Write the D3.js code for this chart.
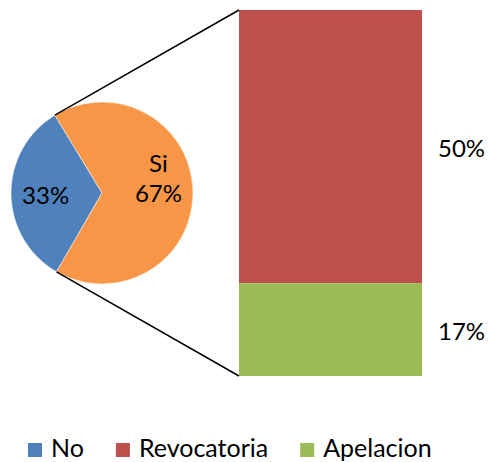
<!DOCTYPE html>
<html lang="es">
<head>
<meta charset="UTF-8">
<script src="https://cdnjs.cloudflare.com/ajax/libs/d3/7.8.5/d3.min.js"></script>
<style>
  body { margin: 0; background: #fff; }
  svg { display: block; font-family: Lato, "Open Sans", sans-serif; }
</style>
</head>
<body>
<div id="chart"></div>
<script>
// pie data
const pieCategories = ["No", "Si"];
const pieValues = [33, 67];
const pieLabels = ["33%", "Si\n67%"];
// bar (breakdown of "Si")
const barCategories = ["Revocatoria", "Apelacion"];
const barValues = [50, 17];
const barLabels = ["50%", "17%"];
// legend
const legendItems = ["No", "Revocatoria", "Apelacion"];

const colors = {
  No: "#4F81BD",
  Si: "#F79646",
  Revocatoria: "#C0504D",
  Apelacion: "#9BBB59"
};

const W = 488, H = 462;
const svg = d3.select("#chart").append("svg")
  .attr("width", W).attr("height", H);

// pie
const cx = 102, cy = 193, r = 91;
const pie = d3.pie().sort(null)
  .startAngle(Math.PI * 7 / 6)
  .endAngle(Math.PI * 7 / 6 + Math.PI * 2);
const arcs = pie(pieValues);
const arc = d3.arc().innerRadius(0).outerRadius(r);
const labelArc = d3.arc().innerRadius(r * 0.62).outerRadius(r * 0.62);

const g = svg.append("g").attr("transform", `translate(${cx},${cy})`);
g.selectAll("path.slice")
  .data(arcs)
  .enter().append("path")
  .attr("class", "slice")
  .attr("d", arc)
  .attr("fill", (d, i) => colors[pieCategories[i]])
  .attr("stroke", "#fff")
  .attr("stroke-width", 0.5);

g.selectAll("text.plabel")
  .data(arcs)
  .enter().append("text")
  .attr("class", "plabel")
  .attr("text-anchor", "middle")
  .attr("font-size", 24)
  .attr("fill", "#000")
  .each(function (d, i) {
    const [x, y] = labelArc.centroid(d);
    const lines = pieLabels[i].split("\n");
    const t = d3.select(this);
    lines.forEach((ln, k) => {
      t.append("tspan")
        .attr("x", x)
        .attr("y", y + 10 - (lines.length - 1 - k) * 30)
        .text(ln);
    });
  });

// bar
const barX0 = 239, barX1 = 422;
const total = d3.sum(barValues);
const y = d3.scaleLinear().domain([0, total]).range([376, 10]);
let acc = 0;
const stack = barValues.map((v, i) => {
  const s = { cat: barCategories[i], v0: total - acc - v, v1: total - acc, label: barLabels[i] };
  acc += v;
  return s;
});

svg.selectAll("rect.seg")
  .data(stack)
  .enter().append("rect")
  .attr("class", "seg")
  .attr("x", barX0)
  .attr("width", barX1 - barX0)
  .attr("y", d => y(d.v1))
  .attr("height", d => y(d.v0) - y(d.v1))
  .attr("fill", d => colors[d.cat]);

svg.selectAll("text.blabel")
  .data(stack)
  .enter().append("text")
  .attr("class", "blabel")
  .attr("x", barX1 + 16)
  .attr("y", d => (y(d.v0) + y(d.v1)) / 2 + 10)
  .attr("font-size", 24)
  .text(d => d.label);

// connector lines from the split edges of the pie to the bar corners
const siArc = arcs[1];
const edge = a => [cx + r * Math.sin(a), cy - r * Math.cos(a)];
const p1 = edge(siArc.startAngle);
const p2 = edge(siArc.endAngle);
svg.append("line")
  .attr("x1", p1[0]).attr("y1", p1[1])
  .attr("x2", barX0).attr("y2", y(total))
  .attr("stroke", "#000").attr("stroke-width", 1.5);
svg.append("line")
  .attr("x1", p2[0]).attr("y1", p2[1])
  .attr("x2", barX0).attr("y2", y(0))
  .attr("stroke", "#000").attr("stroke-width", 1.5);

// legend
const legend = svg.append("g").attr("transform", "translate(28,443)");
let lx = 0;
legendItems.forEach(name => {
  const item = legend.append("g").attr("transform", `translate(${lx},0)`);
  item.append("rect").attr("width", 14).attr("height", 14).attr("fill", colors[name]);
  const t = item.append("text")
    .attr("x", 23).attr("y", 14)
    .attr("font-size", 25)
    .text(name);
  lx += 23 + t.node().getComputedTextLength() + 32;
});
</script>
</body>
</html>
